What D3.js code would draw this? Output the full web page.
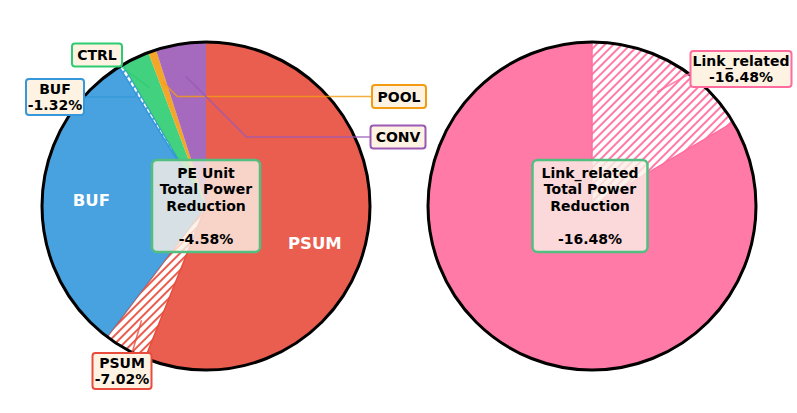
<!DOCTYPE html>
<html>
<head>
<meta charset="utf-8">
<script src="https://cdn.jsdelivr.net/npm/d3@7"></script>
<style>
  body { margin: 0; background: #fff; }
  text { font-family: "DejaVu Sans", sans-serif; font-weight: bold; }
</style>
</head>
<body>
<svg width="797" height="413"></svg>
<script>
// data
const leftComponents = ['PSUM', 'BUF', 'CTRL', 'POOL', 'CONV']
const leftShares = [60.3, 31.25, 2.75, 0.78, 4.94]       // % of PE unit power
const leftReductions = [7.02, 1.32, 0, 0, 0]             // % reduction of each component
const leftColors = ['#E74C3C', '#3498DB', '#2ECC71', '#F39C12', '#9B59B6']
const leftTotal = '-4.58%'

const rightComponents = ['Link_related']
const rightShares = [100]
const rightReductions = [16.48]
const rightColors = ['#FF6B9D']
const rightTotal = '-16.48%'

const svg = d3.select('svg')
const radius = 164

const defs = svg.append('defs')
const makeHatch = (id, color) => {
    const p = defs.append('pattern')
        .attr('id', id)
        .attr('patternUnits', 'userSpaceOnUse')
        .attr('width', 6).attr('height', 6)
        .attr('patternTransform', 'rotate(45)')
    p.append('rect').attr('width', 6).attr('height', 6).attr('fill', '#fff')
    p.append('line')
        .attr('x1', 3).attr('y1', 0).attr('x2', 3).attr('y2', 6)
        .attr('stroke', color).attr('stroke-width', 1.8)
}

// point at angle a (clockwise from 12 o'clock) and distance r
const polar = (a, r) => [r * Math.sin(a), -r * Math.cos(a)]

const drawPie = (cfg) => {
    const g = svg.append('g').attr('transform', `translate(${cfg.cx},${cfg.cy})`)

    // build slices: remaining part + reduced (hatched) part per component
    const slices = []
    cfg.components.forEach((c, i) => {
        const rest = { comp: c, i, value: cfg.shares[i] * (1 - cfg.reductions[i] / 100), hatched: false }
        const cut = { comp: c, i, value: cfg.shares[i] * cfg.reductions[i] / 100, hatched: true }
        if (cfg.hatchFirst) { slices.push(cut, rest) } else { slices.push(rest, cut) }
    })
    cfg.components.forEach((c, i) => makeHatch(`hatch-${c}`, cfg.colors[i]))

    const pie = d3.pie().sort(null).value(d => d.value)
    const arcs = pie(slices.filter(d => d.value > 0))
    const arc = d3.arc().innerRadius(0).outerRadius(radius)

    g.selectAll('path.slice').data(arcs)
        .enter().append('path')
            .attr('class', 'slice')
            .attr('d', arc)
            .attr('fill', d => d.data.hatched ? `url(#hatch-${d.data.comp})` : cfg.colors[d.data.i])
            .attr('fill-opacity', d => d.data.hatched ? 1 : 0.9)
            .attr('stroke', d => d.data.hatched ? cfg.colors[d.data.i] : 'none')
            .attr('stroke-width', 1.5)

    g.append('circle')
        .attr('r', radius)
        .attr('fill', 'none')
        .attr('stroke', '#000')
        .attr('stroke-width', 3)

    // white labels inside the big wedges, at the mid angle of the whole component
    cfg.components.forEach((c, i) => {
        if (!cfg.inner.includes(c)) return
        const parts = arcs.filter(d => d.data.i === i)
        const a = (d3.min(parts, d => d.startAngle) + d3.max(parts, d => d.endAngle)) / 2
        const [x, y] = polar(a, radius * 0.7)
        g.append('text')
            .attr('x', x).attr('y', y + 1)
            .attr('text-anchor', 'middle')
            .attr('dominant-baseline', 'central')
            .attr('fill', '#fff')
            .attr('font-size', 16.5)
            .text(c)
    })

    // callout boxes with leader lines
    cfg.callouts.forEach(co => {
        const i = cfg.components.indexOf(co.comp)
        const parts = arcs.filter(d => d.data.i === i)
        const target = parts.find(d => d.data.hatched) || parts[0]
        const a = (target.startAngle + target.endAngle) / 2
        const [ax, ay] = polar(a, radius * 0.8)
        const bx = co.x - cfg.cx, by = co.y - cfg.cy
        let pts
        if (co.style === 'elbow') {
            const edge = bx > ax ? bx - co.w / 2 : bx + co.w / 2
            const dir = bx > ax ? 1 : -1
            pts = [[ax, ay], [ax + dir * Math.abs(by - ay), by], [edge, by]]
        } else {
            pts = [[ax, ay], [bx + co.tx, by + co.ty]]
        }
        g.append('path')
            .attr('d', d3.line()(pts))
            .attr('fill', 'none')
            .attr('stroke', cfg.colors[i])
            .attr('stroke-opacity', 0.8)
            .attr('stroke-width', 1.5)

        const lines = co.lines
        g.append('rect')
            .attr('x', bx - co.w / 2).attr('y', by - co.h / 2)
            .attr('width', co.w).attr('height', co.h)
            .attr('rx', 3)
            .attr('fill', '#FEF3E2')
            .attr('stroke', cfg.colors[i])
            .attr('stroke-width', 2)
        const t = g.append('text')
            .attr('text-anchor', 'middle')
            .attr('font-size', 14)
            .attr('fill', '#000')
        lines.forEach((l, k) => {
            t.append('tspan')
                .attr('x', bx)
                .attr('y', by + (k - (lines.length - 1) / 2) * 16 + 5)
                .text(l)
        })
    })

    // centre summary box
    const cb = cfg.center
    g.append('rect')
        .attr('x', cb.dx - cb.w / 2).attr('y', -cb.h / 2)
        .attr('width', cb.w).attr('height', cb.h)
        .attr('rx', 5)
        .attr('fill', '#FAF0E6')
        .attr('fill-opacity', 0.8)
        .attr('stroke', '#52BE80')
        .attr('stroke-width', 2.5)
    const ct = g.append('text')
        .attr('text-anchor', 'middle')
        .attr('font-size', 14)
    cb.lines.forEach((l, k) => {
        ct.append('tspan')
            .attr('x', cb.dx)
            .attr('y', (k - (cb.lines.length - 1) / 2) * 16.7 + 5)
            .text(l)
    })
}

drawPie({
    cx: 206, cy: 206,
    components: leftComponents, shares: leftShares,
    reductions: leftReductions, colors: leftColors,
    hatchFirst: false,
    inner: ['PSUM', 'BUF'],
    callouts: [
        { comp: 'CTRL', x: 97, y: 55, w: 50, h: 23, lines: ['CTRL'], style: 'straight', tx: 22, ty: 10 },
        { comp: 'BUF', x: 55, y: 97, w: 58, h: 36, lines: ['BUF', `-${leftReductions[1].toFixed(2)}%`], style: 'elbow' },
        { comp: 'POOL', x: 399, y: 96.5, w: 54, h: 23, lines: ['POOL'], style: 'elbow' },
        { comp: 'CONV', x: 398, y: 137, w: 55, h: 23, lines: ['CONV'], style: 'elbow' },
        { comp: 'PSUM', x: 122, y: 371, w: 59, h: 36, lines: ['PSUM', `-${leftReductions[0].toFixed(2)}%`], style: 'straight', tx: 10, ty: -18 }
    ],
    center: { dx: 0, w: 108, h: 92, lines: ['PE Unit', 'Total Power', 'Reduction', '', leftTotal] }
})

drawPie({
    cx: 592, cy: 206,
    components: rightComponents, shares: rightShares,
    reductions: rightReductions, colors: rightColors,
    hatchFirst: true,
    inner: [],
    callouts: [
        { comp: 'Link_related', x: 741, y: 69, w: 101, h: 36, lines: ['Link_related', `-${rightReductions[0].toFixed(2)}%`], style: 'straight', tx: -50, ty: 4 }
    ],
    center: { dx: -2, w: 115, h: 92, lines: ['Link_related', 'Total Power', 'Reduction', '', rightTotal] }
})
</script>
</body>
</html>
